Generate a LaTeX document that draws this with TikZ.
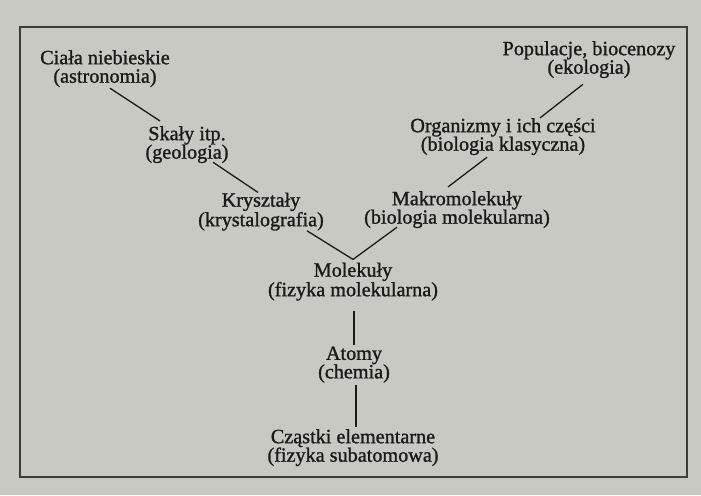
\documentclass[tikz,border=0pt]{standalone}
\usepackage{fontspec}
\setmainfont{Liberation Serif}[FakeBold=1.2]
\usepackage{tikz}
\usetikzlibrary{positioning}
\definecolor{paper}{RGB}{201,201,196}
\definecolor{ink}{RGB}{26,26,24}

\begin{document}
\begin{tikzpicture}[x=1pt,y=-1pt,
  lbl/.style={align=center,inner sep=0pt,text=ink,font=\fontsize{20.2}{18.5}\selectfont},
  edge/.style={draw=ink,line width=1.3pt},
  frame/.style={draw=ink!85,line width=1.4pt}]
\fill[paper] (0,0) rectangle (701,495);
\useasboundingbox (0,0) rectangle (701,495);
\draw[frame] (20,27) rectangle (687,477);

\node (l0) at (105,68.6) [lbl] {Ciała niebieskie\\(astronomia)};
\node (l1) at (187,144.6) [lbl] {Skały itp.\\(geologia)};
\node (l2) at (261,211.6) [lbl] {Kryształy\\(krystalografia)};
\node (l3) at (589,59.6) [lbl] {Populacje, biocenozy\\(ekologia)};
\node (l4) at (503,136.6) [lbl] {Organizmy i ich części\\(biologia klasyczna)};
\node (l5) at (457,209.6) [lbl] {Makromolekuły\\(biologia molekularna)};
\node (l6) at (353,281.6) [lbl] {Molekuły\\(fizyka molekularna)};
\node (l7) at (354,364.6) [lbl] {Atomy\\(chemia)};
\node (l8) at (353,447.6) [lbl] {Cząstki elementarne\\(fizyka subatomowa)};

\foreach \a/\b/\s/\e in {0/1/{5pt,-1pt}/{-27pt,5pt},
                         1/2/{26pt,1pt}/{-3pt,0pt},
                         2/6/{46pt,0pt}/{0pt,3pt},
                         5/6/{-60pt,1pt}/{0pt,3pt},
                         3/4/{-6pt,-6pt}/{37pt,0pt},
                         4/5/{-16pt,-2pt}/{-9pt,4pt},
                         6/7/{1pt,-10pt}/{0pt,1pt},
                         7/8/{2pt,-2pt}/{3pt,2pt}} {
\draw[edge] ([shift={(\s)}]l\a.south) -- ([shift={(\e)}]l\b.north);
};
\end{tikzpicture}
\end{document}
